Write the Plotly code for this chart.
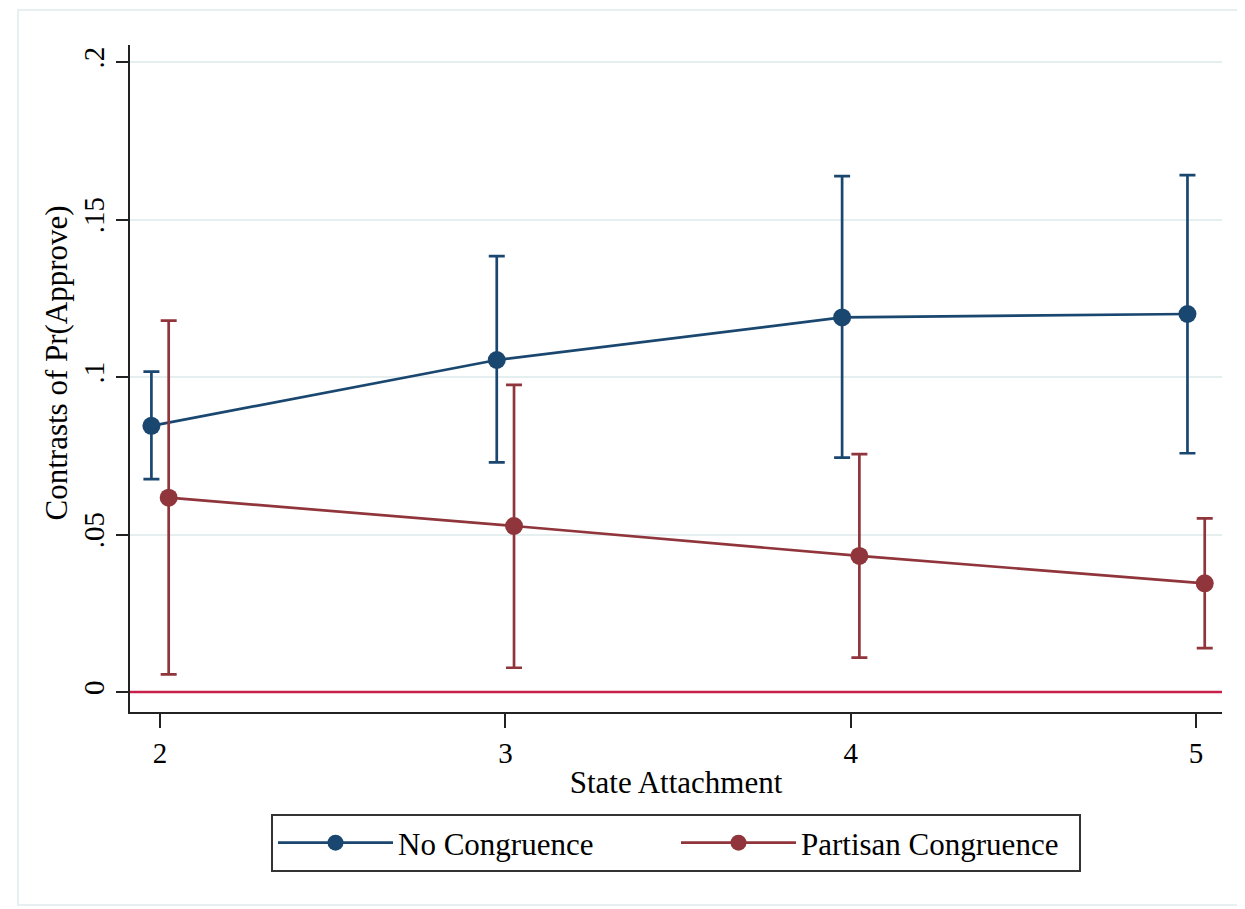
import plotly.graph_objects as go

# Data
state_attachment = [2, 3, 4, 5]
dodge = 0.025
no_cong = [0.0845, 0.1054, 0.1189, 0.1200]
no_cong_lo = [0.0676, 0.0729, 0.0744, 0.0758]
no_cong_hi = [0.1017, 0.1384, 0.1638, 0.1641]
part_cong = [0.0617, 0.0527, 0.0432, 0.0345]
part_cong_lo = [0.0056, 0.0077, 0.0109, 0.0139]
part_cong_hi = [0.1179, 0.0975, 0.0755, 0.0551]

y_ticks = [0, 0.05, 0.1, 0.15, 0.2]
y_tick_labels = ["0", ".05", ".1", ".15", ".2"]
x_ticks = [2, 3, 4, 5]

BLUE = "#1a476f"
RED = "#90353b"
FONT = "Liberation Serif"

fig = go.Figure()


def add_series(name, vals, lo, hi, color, shift):
    xs = [x + shift for x in state_attachment]
    fig.add_trace(go.Scatter(
        x=xs, y=vals, name=name, mode="lines+markers",
        line=dict(color=color, width=2.7),
        marker=dict(color=color, size=18),
        error_y=dict(type="data", symmetric=False,
                     array=[h - v for h, v in zip(hi, vals)],
                     arrayminus=[v - l for v, l in zip(vals, lo)],
                     color=color, thickness=2.7, width=8),
    ))


add_series("No Congruence", no_cong, no_cong_lo, no_cong_hi, BLUE, -dodge)
add_series("Partisan Congruence", part_cong, part_cong_lo, part_cong_hi, RED, dodge)

fig.add_shape(type="line", xref="paper", yref="y", x0=0, x1=1, y0=0, y1=0,
              line=dict(color="#c8204a", width=2.5), layer="above")

# faint outer frame
fig.add_shape(type="rect", xref="paper", yref="paper",
              x0=-0.1026, x1=1.0165, y0=-0.2894, y1=1.0525,
              line=dict(color="#e8eff0", width=2), layer="below")

# y-axis title as annotation (placed like the reference)
fig.add_annotation(text="Contrasts of Pr(Approve)", textangle=-90, showarrow=False,
                   xref="paper", yref="paper", x=-0.0675, y=0.523,
                   xanchor="center", yanchor="middle", font=dict(size=31, family=FONT))

fig.update_layout(
    width=1237, height=901,
    margin=dict(l=122, r=23, t=37, b=197, autoexpand=False),
    paper_bgcolor="white", plot_bgcolor="white",
    font=dict(family=FONT, size=29, color="black"),
    showlegend=True,
    legend=dict(orientation="h", x=0.5, xanchor="center", y=-0.153, yanchor="top",
                bordercolor="#333333", borderwidth=2, font=dict(size=31, family=FONT),
                itemwidth=115, entrywidth=273, tracegroupgap=0),
    xaxis=dict(range=[1.913, 5.075], tickvals=x_ticks, showgrid=False, zeroline=False,
               showline=True, linecolor="#222", linewidth=2,
               ticks="outside", ticklen=14, tickwidth=1.5, tickcolor="#222",
               tickfont=dict(size=29), title=dict(text="State Attachment", font=dict(size=31), standoff=4)),
    yaxis=dict(range=[-0.00635, 0.2054], tickvals=y_ticks, ticktext=y_tick_labels,
               tickangle=-90, showgrid=True, gridcolor="#e6eff0", gridwidth=2, zeroline=False,
               showline=True, linecolor="#222", linewidth=2,
               ticks="outside", ticklen=12, tickwidth=1.5, tickcolor="#222",
               tickfont=dict(size=29)),
)

fig.write_html("out.html")
